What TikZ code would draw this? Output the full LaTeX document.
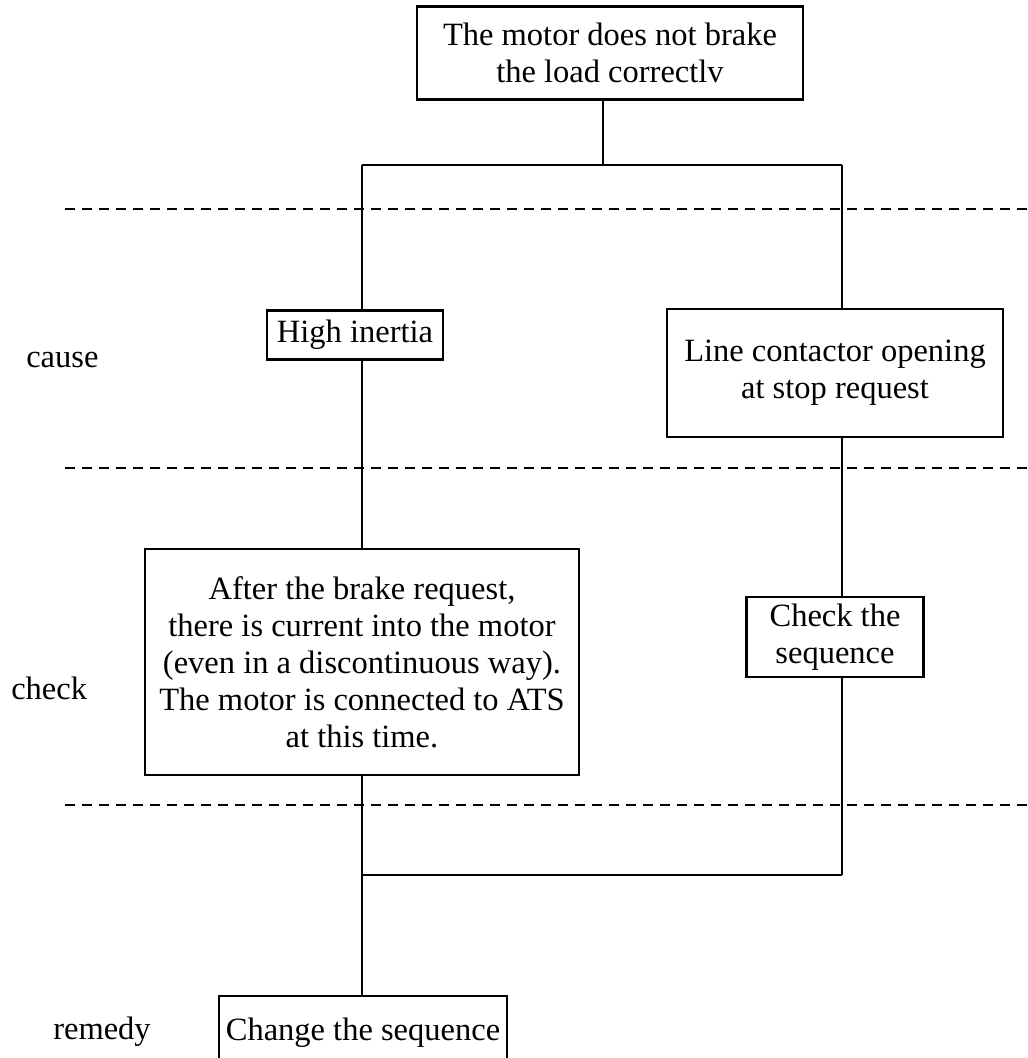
\documentclass[tikz,border=0pt]{standalone}
\usepackage{fontspec}
\setmainfont{Liberation Serif}
\usepackage{tikz}

\begin{document}
\begin{tikzpicture}[x=1pt, y=-1pt, line width=2.5pt,
		box/.style={draw, align=center, inner sep=0pt, font=\fontsize{32.5}{37}\selectfont},
		lbl/.style={right, inner sep=0pt, font=\fontsize{32.5}{37}\selectfont},
		sep/.style={dashed, line width=1.4pt, dash pattern=on 10pt off 7pt}]
		\useasboundingbox (0,0) rectangle (1028,1058);

		% levels
		\foreach \y in {209, 468, 805} {
				\draw[sep] (65,\y) -- (1028,\y);
			}
		\node[lbl] (cause) at (25,360) {cause};
		\node[lbl] (check) at (10,688) {check};
		\node[lbl] (remedy) at (52,1032) {remedy};

		% boxes
		\node[box, minimum width=386, minimum height=93] (fault) at (610,53) {The motor does not brake\\the load correctlv};
		\node[box, minimum width=176, minimum height=49] (inertia) at (355,335) {High inertia};
		\node[box, minimum width=336, minimum height=128] (contactor) at (835,373) {Line contactor opening\\at stop request};
		\node[box, minimum width=434, minimum height=226] (current) at (362,662) {After the brake request,\\there is current into the motor\\(even in a discontinuous way).\\The motor is connected to ATS\\at this time.};
		\node[box, minimum width=177, minimum height=80] (checkseq) at (835,637) {Check the\\sequence};
		\node[box, minimum width=288, minimum height=74] (change) at (363,1033) {Change the sequence};

		% fork and merge
		\coordinate (forkL) at (362,165);
		\coordinate (forkM) at (603,165);
		\coordinate (forkR) at (842,165);
		\coordinate (mergeL) at (362,875);
		\coordinate (mergeR) at (842,875);

		\draw (fault.south -| forkM) -- (forkM);
		\draw (forkL) -- (forkR);
		\draw (forkL) -- (forkL |- inertia.north);
		\draw (forkL |- inertia.south) -- (current.north);
		\draw (current.south) -- (mergeL);
		\draw (forkR) -- (forkR |- contactor.north);
		\draw (forkR |- contactor.south) -- (forkR |- checkseq.north);
		\draw (forkR |- checkseq.south) -- (mergeR);
		\draw (mergeL) -- (mergeR);
		\draw (mergeL) -- (mergeL |- change.north);
	\end{tikzpicture}
\end{document}
